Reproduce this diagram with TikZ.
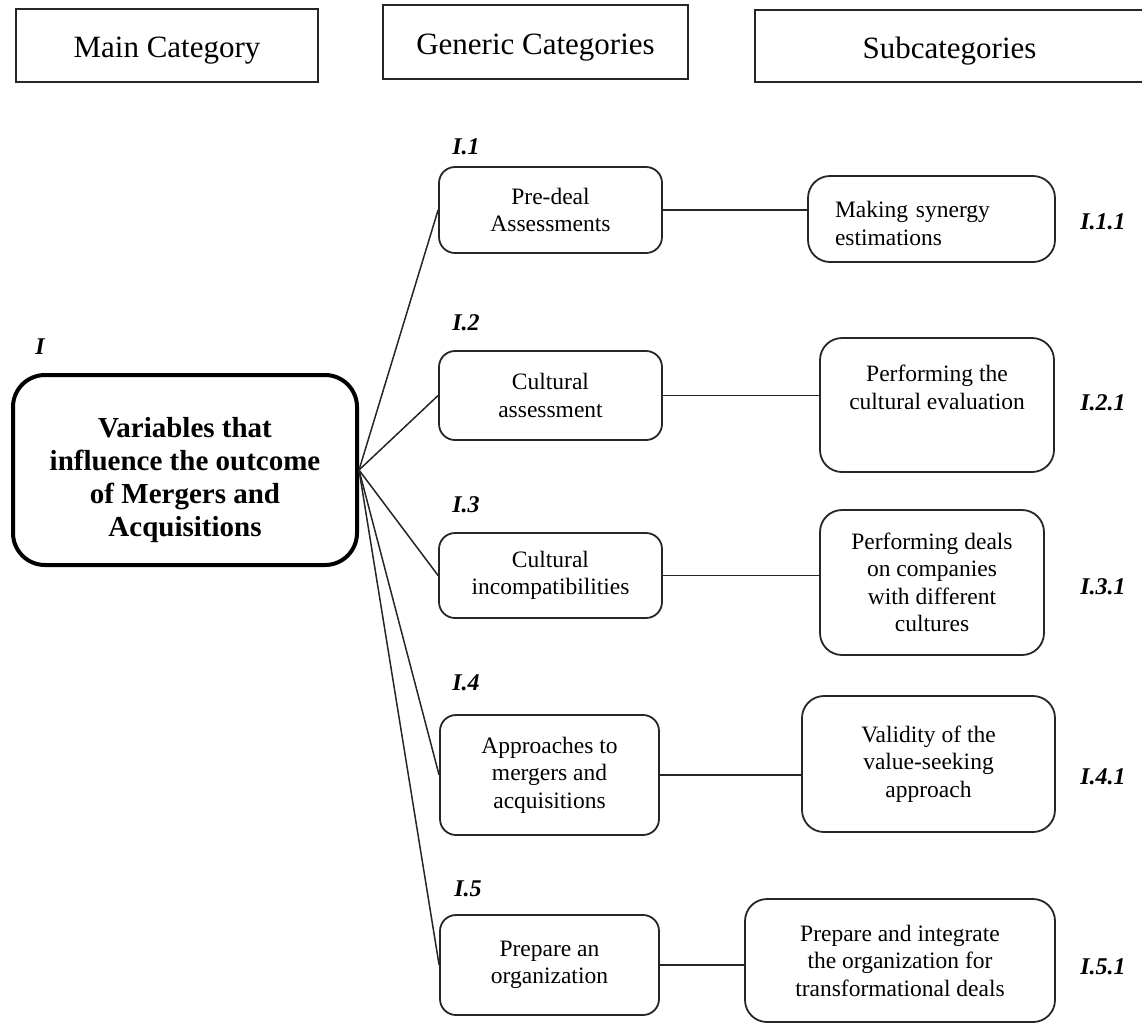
\documentclass[tikz,border=0pt]{standalone}
\usepackage{fontspec}
\setmainfont{Liberation Serif}
\usetikzlibrary{calc}
\begin{document}
\begin{tikzpicture}[x=1pt,y=-1pt,
  hdr/.style={draw=black!85, line width=2pt, font=\fontsize{31}{36}\selectfont, inner sep=0pt, align=center},
  gen/.style={draw=black!85, line width=1.8pt, rounded corners=16pt, align=center, font=\fontsize{23.5}{27.5}\selectfont, inner sep=0pt},
  sub/.style={draw=black!85, line width=1.8pt, rounded corners=22pt, align=center, font=\fontsize{23.5}{27.5}\selectfont, inner sep=0pt},
  mainbox/.style={draw=black, line width=4pt, rounded corners=32pt, align=center, font=\fontsize{29}{33}\selectfont\bfseries, inner sep=0pt},
  lab/.style={font=\fontsize{24}{27}\selectfont\bfseries\itshape, inner sep=0pt},
  conn/.style={draw=black!85, line width=1.5pt}
]
\useasboundingbox (0,0) rectangle (1142,1029);

% headers
\node[hdr, minimum width=302pt, minimum height=73pt] (h1) at (167,45.5) {\mbox{}\\[-5pt]Main Category};
\node[hdr, minimum width=305pt, minimum height=74pt] (h2) at (535.5,42) {\mbox{}\\[-5pt]Generic Categories};
\node[hdr, minimum width=389pt, minimum height=72pt] (h3) at (949.5,46) {\mbox{}\\[-5pt]Subcategories};

% main
\node[mainbox, minimum width=344pt, minimum height=190pt] (m) at (185,470)
  {\mbox{}\\[8pt]Variables that\\influence the outcome\\of Mergers and\\Acquisitions};
\node[lab] (lm) at (40,347) {I};

% generic categories
\node[gen, minimum width=223pt, minimum height=86pt] (g1) at (550.5,210) {Pre-deal\\Assessments};
\node[gen, minimum width=223pt, minimum height=89pt] (g2) at (550.5,395.5) {Cultural\\assessment};
\node[gen, minimum width=223pt, minimum height=85pt] (g3) at (550.5,575.5) {Cultural\\incompatibilities};
\node[gen, minimum width=219pt, minimum height=120pt] (g4) at (549.5,775) {Approaches to\\mergers and\\acquisitions};
\node[gen, minimum width=219pt, minimum height=100pt] (g5) at (549.5,965) {Prepare an\\organization};

\node[lab] (l1) at (466,147) {I.1};
\node[lab] (l2) at (466,323) {I.2};
\node[lab] (l3) at (466,505) {I.3};
\node[lab] (l4) at (466,683) {I.4};
\node[lab] (l5) at (468,889) {I.5};

% subcategories
\node[sub, minimum width=247pt, minimum height=86pt, text width=193pt, align=left] (s1) at (931.5,219) {\mbox{}\\[-2pt]Making synergy\\estimations};
\node[sub, minimum width=234pt, minimum height=134pt] (s2) at (937,405) {Performing the\\cultural evaluation\\[8pt]\mbox{}};
\node[sub, minimum width=224pt, minimum height=145pt] (s3) at (932,582.5) {Performing deals\\on companies\\with different\\cultures};
\node[sub, minimum width=253pt, minimum height=136pt] (s4) at (928.5,764) {Validity of the\\value-seeking\\approach};
\node[sub, minimum width=310pt, minimum height=123pt] (s5) at (900,960.5) {Prepare and integrate\\the organization for\\transformational deals};

\node[lab] (k1) at (1103,222) {I.1.1};
\node[lab] (k2) at (1103,403) {I.2.1};
\node[lab] (k3) at (1103,587) {I.3.1};
\node[lab] (k4) at (1103,777) {I.4.1};
\node[lab] (k5) at (1103,967) {I.5.1};

% connectors
\foreach \g in {g1,g2,g3,g4,g5}{
  \draw[conn] (m.east) -- (\g.west);
}
\draw[conn] (g1.east) -- (g1.east -| s1.west);
\draw[conn] (g2.east) -- (g2.east -| s2.west);
\draw[conn] (g3.east) -- (g3.east -| s3.west);
\draw[conn] (g4.east) -- (g4.east -| s4.west);
\draw[conn] (g5.east) -- (g5.east -| s5.west);
\end{tikzpicture}
\end{document}
